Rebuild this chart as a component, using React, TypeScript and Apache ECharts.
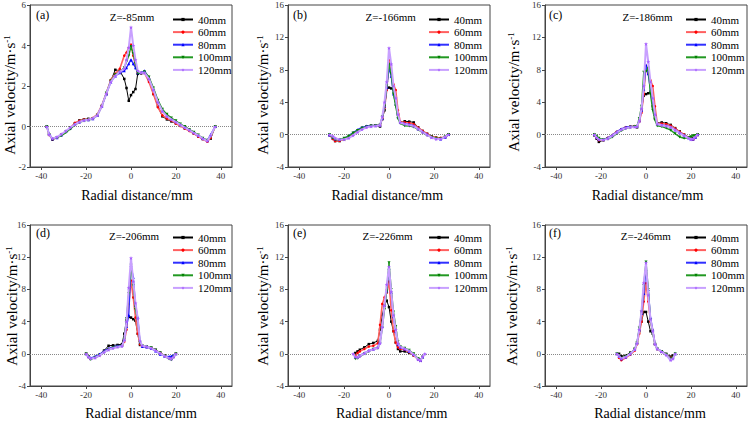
import React, { useEffect, useRef } from "react";
import * as echarts from "echarts";

const FONT = "Liberation Serif";

const SERIES_NAMES = ["40mm", "60mm", "80mm", "100mm", "120mm"];
const Z_LABELS = ["Z=-85mm", "Z=-166mm", "Z=-186mm", "Z=-206mm", "Z=-226mm", "Z=-246mm"];
const PANEL_TAGS = ["(a)", "(b)", "(c)", "(d)", "(e)", "(f)"];
const X_TICKS = [-40, -20, 0, 20, 40];
const X_TITLE = "Radial distance/mm";

// Panel (a)
const xA = [-37.5, -36.5, -35, -33, -31, -29, -27, -25, -23, -21, -19, -17, -15, -13, -11, -9, -7, -5, -3, -2, -1, 0, 1, 2, 3, 4.5, 6, 8, 10, 12, 14, 16, 18, 20, 22, 24, 26, 28, 30, 32, 34, 35.5, 37.5];
const a40 = [0, -0.4, -0.65, -0.55, -0.4, -0.25, -0.05, 0.15, 0.3, 0.35, 0.38, 0.4, 0.55, 1.0, 1.6, 2.25, 2.8, 2.75, 2.35, 1.9, 1.27, 1.55, 1.7, 1.85, 2.6, 2.65, 2.65, 2.3, 1.6, 1.0, 0.5, 0.35, 0.25, 0.15, 0.05, -0.1, -0.2, -0.35, -0.5, -0.62, -0.72, -0.6, 0];
const a60 = [0, -0.42, -0.62, -0.55, -0.4, -0.25, -0.08, 0.18, 0.28, 0.34, 0.36, 0.42, 0.6, 1.05, 1.65, 2.3, 2.6, 2.85, 3.5, 3.65, 3.9, 4.05, 3.5, 3.0, 2.65, 2.6, 2.65, 2.2, 1.6, 0.95, 0.55, 0.4, 0.3, 0.15, 0.02, -0.1, -0.22, -0.35, -0.5, -0.62, -0.75, -0.55, 0];
const a80 = [0, -0.35, -0.6, -0.55, -0.42, -0.25, -0.08, 0.12, 0.22, 0.3, 0.33, 0.38, 0.55, 1.0, 1.6, 2.2, 2.5, 2.65, 2.75, 2.9, 3.1, 3.3, 3.1, 2.9, 2.65, 2.65, 2.75, 2.4, 1.85, 1.25, 0.8, 0.55, 0.38, 0.25, 0.1, -0.02, -0.15, -0.3, -0.45, -0.58, -0.68, -0.4, 0];
const a100 = [0, -0.4, -0.62, -0.55, -0.45, -0.3, -0.12, 0.08, 0.2, 0.28, 0.32, 0.38, 0.55, 1.0, 1.65, 2.25, 2.55, 2.7, 2.9, 3.2, 3.5, 3.95, 3.6, 3.1, 2.65, 2.6, 2.7, 2.45, 1.9, 1.3, 0.85, 0.6, 0.42, 0.28, 0.12, 0.0, -0.15, -0.28, -0.42, -0.58, -0.68, -0.5, 0];
const a120 = [0, -0.4, -0.6, -0.52, -0.38, -0.22, -0.05, 0.1, 0.22, 0.3, 0.34, 0.4, 0.55, 1.0, 1.62, 2.2, 2.5, 2.7, 2.85, 3.3, 3.9, 4.9, 4.0, 3.3, 2.75, 2.65, 2.65, 2.35, 1.8, 1.2, 0.75, 0.5, 0.35, 0.22, 0.08, -0.05, -0.18, -0.32, -0.45, -0.6, -0.72, -0.45, 0];

// Panel (b)
const xB = [-26.5, -25, -24, -22, -20, -18, -16, -14, -12, -10, -8, -6, -4, -3, -2, -1, 0, 1, 2, 3, 4, 5, 7, 9, 11, 13, 15, 17, 19, 21, 23, 25, 26.5];
const b40 = [-0.05, -0.5, -0.8, -0.8, -0.6, -0.35, 0.05, 0.45, 0.8, 1.0, 1.1, 1.1, 1.0, 1.9, 3.0, 5.8, 5.8, 5.7, 5.6, 4.2, 2.5, 1.5, 1.65, 1.6, 1.5, 0.9, 0.45, 0.1, -0.2, -0.4, -0.5, -0.3, 0];
const b60 = [-0.05, -0.55, -0.8, -0.75, -0.55, -0.3, 0.1, 0.45, 0.75, 0.95, 1.05, 1.15, 1.2, 2.0, 3.3, 5.5, 9.2, 7.5, 6.2, 5.5, 3.0, 1.6, 1.5, 1.45, 1.3, 0.85, 0.45, 0.1, -0.2, -0.35, -0.4, -0.3, 0];
const b80 = [-0.05, -0.35, -0.55, -0.6, -0.45, -0.15, 0.25, 0.6, 0.9, 1.05, 1.1, 1.15, 1.2, 2.0, 3.5, 5.8, 8.3, 7.2, 5.0, 3.8, 2.2, 1.5, 1.35, 1.25, 1.1, 0.7, 0.35, 0.0, -0.3, -0.45, -0.55, -0.35, 0];
const b100 = [0, -0.4, -0.6, -0.6, -0.45, -0.2, 0.2, 0.5, 0.8, 0.95, 1.05, 1.1, 1.2, 2.2, 3.5, 6.0, 8.7, 7.5, 5.0, 3.5, 2.0, 1.4, 1.1, 1.05, 0.95, 0.6, 0.25, -0.1, -0.3, -0.45, -0.5, -0.3, 0];
const b120 = [0, -0.2, -0.45, -0.6, -0.6, -0.45, -0.1, 0.3, 0.65, 0.9, 1.0, 1.05, 1.15, 2.2, 4.0, 6.5, 10.7, 8.7, 6.0, 4.5, 2.5, 1.5, 1.3, 1.2, 1.05, 0.7, 0.3, -0.05, -0.35, -0.55, -0.55, -0.3, 0];

// Panel (c)
const xC = [-23, -22, -21, -19, -17, -15, -13, -11, -9, -7, -5, -4, -3, -2, -1, 0, 1, 2, 3, 4, 5, 7, 9, 11, 13, 15, 17, 19, 20, 21, 22, 23];
const c40 = [-0.1, -0.5, -0.9, -0.7, -0.45, -0.1, 0.3, 0.6, 0.85, 0.95, 1.0, 0.9, 1.8, 3.0, 4.8, 5.0, 5.1, 5.2, 3.5, 2.0, 1.4, 1.5, 1.4, 1.2, 0.8, 0.4, 0.0, -0.35, -0.5, -0.45, -0.3, -0.05];
const c60 = [0, -0.4, -0.7, -0.65, -0.4, -0.05, 0.35, 0.65, 0.9, 1.0, 1.05, 1.05, 1.6, 2.7, 5.0, 8.5, 7.5, 6.7, 6.0, 3.5, 1.4, 1.35, 1.3, 1.1, 0.75, 0.35, 0.0, -0.35, -0.55, -0.6, -0.35, 0];
const c80 = [0, -0.3, -0.55, -0.6, -0.4, -0.05, 0.35, 0.7, 0.9, 1.0, 1.0, 1.05, 1.7, 3.0, 5.6, 8.6, 7.5, 5.5, 4.0, 2.5, 1.3, 1.2, 1.1, 0.95, 0.6, 0.25, -0.1, -0.4, -0.55, -0.55, -0.35, 0];
const c100 = [0, -0.2, -0.45, -0.6, -0.55, -0.3, 0.1, 0.5, 0.75, 0.9, 1.0, 1.0, 2.0, 3.5, 7.7, 7.8, 8.2, 5.0, 3.0, 1.8, 1.1, 1.0, 0.8, 0.55, 0.1, -0.3, -0.45, -0.4, -0.25, -0.15, -0.1, 0];
const c120 = [0, -0.35, -0.6, -0.65, -0.5, -0.15, 0.25, 0.6, 0.8, 0.9, 0.95, 1.0, 1.7, 3.2, 6.0, 11.2, 9.0, 6.5, 4.5, 2.5, 1.3, 1.15, 1.05, 0.9, 0.55, 0.2, -0.15, -0.45, -0.6, -0.5, -0.3, 0];

// Panel (d)
const xD = [-20, -19, -18, -16, -14, -12, -10, -8, -6, -4, -3, -2, -1, 0, 1, 2, 3, 4, 5, 7, 9, 11, 13, 15, 17, 18, 19, 20];
const d40 = [0, -0.3, -0.55, -0.4, -0.1, 0.4, 1.0, 1.05, 1.1, 1.2, 2.5, 4.2, 4.6, 4.5, 4.3, 4.1, 2.5, 1.1, 0.95, 0.9, 0.75, 0.5, 0.15, -0.2, -0.45, -0.55, -0.3, 0];
const d60 = [0, -0.4, -0.6, -0.45, -0.2, 0.3, 0.6, 0.8, 0.9, 1.0, 1.5, 3.0, 6.2, 9.1, 7.0, 4.5, 2.5, 1.2, 0.95, 0.85, 0.7, 0.45, 0.1, -0.25, -0.5, -0.6, -0.35, 0];
const d80 = [0, -0.35, -0.5, -0.35, -0.05, 0.35, 0.65, 0.85, 1.0, 1.05, 1.8, 3.4, 4.8, 11.0, 9.5, 6.0, 4.5, 1.5, 0.9, 0.85, 0.65, 0.35, -0.05, -0.3, -0.35, -0.3, -0.2, 0];
const d100 = [0, -0.4, -0.7, -0.5, -0.2, 0.2, 0.5, 0.75, 0.85, 0.95, 1.8, 4.4, 7.5, 11.0, 8.5, 5.5, 4.2, 1.4, 1.0, 0.9, 0.75, 0.45, 0.1, -0.3, -0.65, -0.75, -0.4, 0];
const d120 = [0, -0.4, -0.6, -0.5, -0.2, 0.2, 0.5, 0.7, 0.85, 0.95, 1.7, 4.0, 8.2, 11.9, 9.0, 6.3, 4.4, 1.6, 1.0, 0.9, 0.7, 0.4, 0.05, -0.3, -0.55, -0.65, -0.4, 0];

// Panel (e)
const xE = [-16, -15, -14, -13, -11, -9, -7, -5, -4, -3, -2, -1, 0, 1, 2, 3, 4, 5, 7, 9, 11, 13, 14, 15, 16];
const e40 = [null, 0.1, 0.3, 0.5, 0.8, 1.2, 1.35, 1.6, 3.0, 4.8, 6.0, 6.6, 5.8, 4.0, 2.8, 1.4, 0.6, 0.3, 0.3, 0.1, -0.2, -0.65, -0.8, -0.4, null];
const e60 = [null, -0.2, 0.1, 0.3, 0.6, 0.9, 1.0, 1.3, 3.6, 6.2, 7.0, 7.6, 9.0, 5.4, 2.8, 1.4, 0.8, 0.6, 0.5, 0.2, -0.2, -0.7, -0.85, -0.4, null];
const e80 = [null, -0.45, -0.4, -0.2, 0.1, 0.4, 0.6, 0.8, 1.5, 3.4, 6.0, 7.8, 10.6, 7.6, 4.6, 2.8, 1.2, 0.8, 0.6, 0.3, -0.1, -0.65, -0.8, -0.4, null];
const e100 = [null, -0.6, -0.55, -0.35, 0, 0.3, 0.55, 0.7, 1.3, 3.2, 5.5, 7.8, 11.3, 8.0, 5.2, 3.4, 1.5, 0.9, 0.7, 0.45, 0.0, -0.6, -0.8, -0.4, null];
const e120 = [0, -0.4, -0.45, -0.3, 0.05, 0.35, 0.55, 0.75, 1.3, 3.3, 6.0, 8.6, 10.8, 7.7, 4.8, 3.0, 1.3, 0.85, 0.65, 0.35, -0.1, -0.7, -0.85, -0.35, 0];

// Panel (f)
const xF = [-13, -12, -11, -9, -7, -5, -4, -3, -2, -1, 0, 1, 2, 3, 4, 5, 7, 9, 11, 12, 13];
const f40 = [null, 0, -0.3, -0.2, 0.15, 0.6, 1.3, 2.8, 4.0, 5.2, 5.2, 4.0, 2.8, 2.5, 1.2, 0.6, 0.3, 0.0, -0.35, -0.2, null];
const f60 = [null, -0.5, -0.8, -0.5, -0.1, 0.4, 1.2, 2.5, 4.0, 6.5, 8.8, 6.5, 4.0, 2.9, 1.2, 0.6, 0.25, -0.1, -0.5, -0.4, null];
const f80 = [0, -0.3, -0.6, -0.4, 0.0, 0.55, 1.4, 3.0, 5.0, 7.5, 10.5, 8.0, 4.5, 3.0, 1.3, 0.65, 0.3, -0.1, -0.6, -0.5, 0];
const f100 = [0, -0.3, -0.55, -0.35, 0.05, 0.6, 1.4, 3.2, 5.2, 8.5, 11.4, 8.0, 4.2, 2.5, 1.2, 0.6, 0.3, -0.1, -0.65, -0.5, 0];
const f120 = [0, -0.3, -0.6, -0.4, 0, 0.55, 1.3, 3.0, 5.3, 8.8, 11.3, 7.3, 4.3, 2.8, 1.2, 0.6, 0.25, -0.15, -0.8, -0.6, 0];

const PANEL_X = [xA, xB, xC, xD, xE, xF];
const PANEL_Y = [
  [a40, a60, a80, a100, a120],
  [b40, b60, b80, b100, b120],
  [c40, c60, c80, c100, c120],
  [d40, d60, d80, d100, d120],
  [e40, e60, e80, e100, e120],
  [f40, f60, f80, f100, f120],
];
const Y_RANGES = [
  [-2, 6, 2],
  [-4, 16, 4],
  [-4, 16, 4],
  [-4, 16, 4],
  [-4, 16, 4],
  [-4, 16, 4],
];

// layout (pixels)
const GRIDS = [
  { left: 30, top: 5, width: 202, height: 162 },
  { left: 288, top: 5, width: 202, height: 162 },
  { left: 545, top: 5, width: 202, height: 162 },
  { left: 30, top: 225, width: 202, height: 161 },
  { left: 288, top: 225, width: 202, height: 161 },
  { left: 545, top: 225, width: 202, height: 161 },
];
const LEGEND_POS = [
  [172, 14], [428, 14], [685, 14],
  [172, 232], [428, 232], [685, 232],
];
const Z_POS = [
  [132, 17], [390.7, 16.7], [647.5, 16.7],
  [134, 236], [387.5, 236], [645.8, 236],
];
const TAG_POS = [
  [36, 15], [293, 15], [549, 15],
  [36, 232.7], [293, 232.7], [549, 232.7],
];
const XT_POS = [
  [137, 195], [387.3, 195], [647.5, 195],
  [141, 413], [391.7, 413], [650, 413],
];
const YT_POS = [
  [10, 95], [263, 95], [514, 92],
  [11.5, 306], [263, 306], [511.5, 306],
];

const LINE_COLORS = ["#000000", "#ff6060", "#3030ff", "#229922", "#c8a0ff"];
const SYM_COLORS = ["#000000", "#ff0000", "#0000ff", "#008000", "#a860ff"];
const STAR = "path://M5,0 L6.2,3.6 10,3.8 7,6.1 8.1,9.8 5,7.6 1.9,9.8 3,6.1 0,3.8 3.8,3.6 Z";
const SYMBOLS = ["rect", "circle", "triangle", "triangle", STAR];
const SYM_ROT = [0, 0, 0, 180, 0];
const SYM_SIZE = [2.5, 2.5, 3, 3, 4];
const LINE_W = [1, 1.6, 1.4, 1.4, 2];

export default function App() {
  const ref = useRef<HTMLDivElement>(null);
  useEffect(() => {
    if (!ref.current) return;
    const chart = echarts.init(ref.current, undefined, { renderer: "svg" });

    const grid = GRIDS.map((g) => ({
      ...g,
      show: true,
      borderColor: "#444",
      borderWidth: 1,
      backgroundColor: "transparent",
    }));

    const xAxis = GRIDS.map((_, i) => ({
      type: "value",
      gridIndex: i,
      min: -45,
      max: 45,
      axisLine: { show: true, onZero: false, lineStyle: { color: "#444", width: 1 } },
      axisTick: { show: true, inside: false, length: 3, customValues: X_TICKS, lineStyle: { color: "#444" } },
      axisLabel: { customValues: X_TICKS, fontSize: 9, color: "#333", fontFamily: FONT, margin: 4 },
      splitLine: { show: false },
    }));

    const yAxis = GRIDS.map((_, i) => ({
      type: "value",
      gridIndex: i,
      min: Y_RANGES[i][0],
      max: Y_RANGES[i][1],
      interval: Y_RANGES[i][2],
      axisLine: { show: true, onZero: false, lineStyle: { color: "#444", width: 1 } },
      axisTick: { show: true, inside: false, length: 3, lineStyle: { color: "#444" } },
      axisLabel: { fontSize: 9, color: "#333", fontFamily: FONT, margin: 4 },
      splitLine: { show: false },
    }));

    const series: any[] = [];
    PANEL_Y.forEach((group, p) => {
      group.forEach((ys, s) => {
        const data = PANEL_X[p]
          .map((x, k) => [x, ys[k]])
          .filter((d) => d[1] !== null && d[1] !== undefined);
        const ser: any = {
          type: "line",
          name: SERIES_NAMES[s],
          xAxisIndex: p,
          yAxisIndex: p,
          data,
          symbol: SYMBOLS[s],
          symbolRotate: SYM_ROT[s],
          symbolSize: SYM_SIZE[s],
          showSymbol: true,
          itemStyle: { color: SYM_COLORS[s] },
          lineStyle: { color: LINE_COLORS[s], width: LINE_W[s] },
          z: 2 + s,
        };
        if (s === 0) {
          ser.markLine = {
            silent: true,
            symbol: "none",
            label: { show: false },
            lineStyle: { type: "dotted", color: "#888", width: 1 },
            data: [{ yAxis: 0 }],
          };
        }
        series.push(ser);
      });
    });

    const legend = LEGEND_POS.map(([l, t]) => ({
      orient: "vertical",
      left: l,
      top: t,
      padding: 0,
      itemWidth: 20,
      itemHeight: 4,
      itemGap: 1.6,
      data: SERIES_NAMES,
      selectedMode: false,
      textStyle: { fontSize: 11, fontFamily: FONT, color: "#000", lineHeight: 10, padding: [0, 0, 0, 0] },
    }));

    const graphic: any[] = [];
    for (let i = 0; i < 6; i++) {
      graphic.push({
        type: "text",
        x: Z_POS[i][0],
        y: Z_POS[i][1],
        style: { text: Z_LABELS[i], fontSize: 11, fontFamily: FONT, fill: "#000", align: "center", verticalAlign: "middle" },
      });
      graphic.push({
        type: "text",
        x: TAG_POS[i][0],
        y: TAG_POS[i][1],
        style: { text: PANEL_TAGS[i], fontSize: 12, fontFamily: FONT, fill: "#000", align: "left", verticalAlign: "middle" },
      });
      graphic.push({
        type: "text",
        x: XT_POS[i][0],
        y: XT_POS[i][1],
        style: { text: X_TITLE, fontSize: 14, fontFamily: FONT, fill: "#000", align: "center", verticalAlign: "middle" },
      });
      graphic.push({
        type: "text",
        x: YT_POS[i][0],
        y: YT_POS[i][1],
        rotation: Math.PI / 2,
        style: {
          text: "Axial velocity/m·s{sup|-1}",
          fontSize: 15,
          fontFamily: FONT,
          fill: "#000",
          align: "center",
          verticalAlign: "middle",
          rich: {
            sup: { fontSize: 9, fontFamily: FONT, fill: "#000", verticalAlign: "top", padding: [0, 0, 6, 0] },
          },
        },
      });
    }

    chart.setOption({
      animation: false,
      backgroundColor: "#fff",
      grid,
      xAxis,
      yAxis,
      legend,
      series,
      graphic,
    });
    return () => chart.dispose();
  }, []);

  return <div ref={ref} style={{ position: "fixed", left: 0, top: 0, width: 750, height: 422 }} />;
}
